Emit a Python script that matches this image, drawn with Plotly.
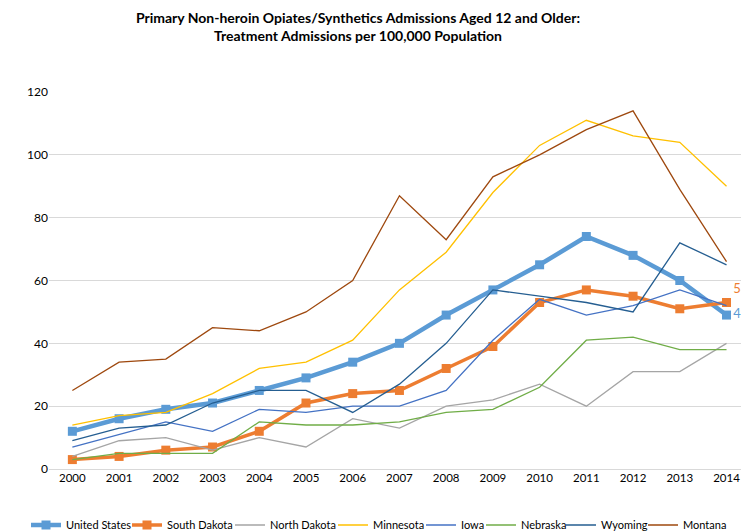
import plotly.graph_objects as go

years = [str(y) for y in range(2000, 2015)]

united_states = [12, 16, 19, 21, 25, 29, 34, 40, 49, 57, 65, 74, 68, 60, 49]
south_dakota = [3, 4, 6, 7, 12, 21, 24, 25, 32, 39, 53, 57, 55, 51, 53]
north_dakota = [4, 9, 10, 6, 10, 7, 16, 13, 20, 22, 27, 20, 31, 31, 40]
minnesota = [14, 17, 18, 24, 32, 34, 41, 57, 69, 88, 103, 111, 106, 104, 90]
iowa = [7, 11, 15, 12, 19, 18, 20, 20, 25, 41, 54, 49, 52, 57, 52]
nebraska = [3, 5, 5, 5, 15, 14, 14, 15, 18, 19, 26, 41, 42, 38, 38]
wyoming = [9, 13, 14, 21, 25, 25, 18, 27, 40, 57, 55, 53, 50, 72, 65]
montana = [25, 34, 35, 45, 44, 50, 60, 87, 73, 93, 100, 108, 114, 89, 66]

# name, values, colour, line width, markers, end-label position, legend left (px)
series = [
    ("United States", united_states, "#5B9BD5", 4.5, True, "middle right", 26),
    ("South Dakota", south_dakota, "#ED7D31", 3.5, True, "top right", 127),
    ("North Dakota", north_dakota, "#A5A5A5", 1.3, False, None, 230),
    ("Minnesota", minnesota, "#FFC000", 1.3, False, None, 333),
    ("Iowa", iowa, "#4472C4", 1.3, False, None, 421),
    ("Nebraska", nebraska, "#70AD47", 1.3, False, None, 481),
    ("Wyoming", wyoming, "#255E91", 1.3, False, None, 561),
    ("Montana", montana, "#9E480E", 1.3, False, None, 643),
]

W, H = 741, 531
FONT = "Lato"

fig = go.Figure()
legends = {}
for i, (name, vals, color, width, marked, labelpos, leg_x) in enumerate(series):
    leg_id = "legend" if i == 0 else f"legend{i + 1}"
    kw = {}
    if marked:
        # label only the final year's value
        kw["text"] = [""] * (len(vals) - 1) + [str(vals[-1])]
        kw["textposition"] = labelpos
        kw["textfont"] = dict(color=color, size=13, family=FONT)
        kw["mode"] = "lines+markers+text"
        kw["marker"] = dict(symbol="square", size=9, color=color)
        kw["cliponaxis"] = False
    else:
        kw["mode"] = "lines"
    fig.add_trace(go.Scatter(
        x=years, y=vals, name=name, legend=leg_id,
        line=dict(color=color, width=width),
        **kw,
    ))
    legends[leg_id] = dict(
        orientation="h", xref="container", yref="container",
        x=leg_x / W, xanchor="left", y=6 / H, yanchor="middle",
        bgcolor="rgba(0,0,0,0)", borderwidth=0,
        font=dict(family=FONT, size=11, color="#000000"),
        itemwidth=30,
    )

fig.update_layout(
    width=W, height=H,
    margin=dict(l=49, r=0, t=92, b=62),
    plot_bgcolor="white", paper_bgcolor="white",
    font=dict(family=FONT, size=12, color="#000000"),
    title=dict(
        text="Primary Non-heroin Opiates/Synthetics Admissions Aged 12 and Older:<br>Treatment Admissions per 100,000 Population",
        x=358 / W, xanchor="center", y=1 - 23 / H, yanchor="top",
        font=dict(family=FONT, size=14, color="#000000", weight="bold"),
    ),
    xaxis=dict(
        type="category", range=[-0.5, 14.31],
        showgrid=False, showline=False, ticks="",
        tickfont=dict(size=11.5, color="#000000"),
    ),
    yaxis=dict(
        range=[0, 120], dtick=20,
        showgrid=True, gridcolor="#D9D9D9", gridwidth=1,
        zeroline=True, zerolinecolor="#D9D9D9", zerolinewidth=1,
        showline=False, ticks="",
        tickfont=dict(size=12, color="#000000"),
    ),
    showlegend=True,
    **legends,
)

fig.write_html("out.html")
